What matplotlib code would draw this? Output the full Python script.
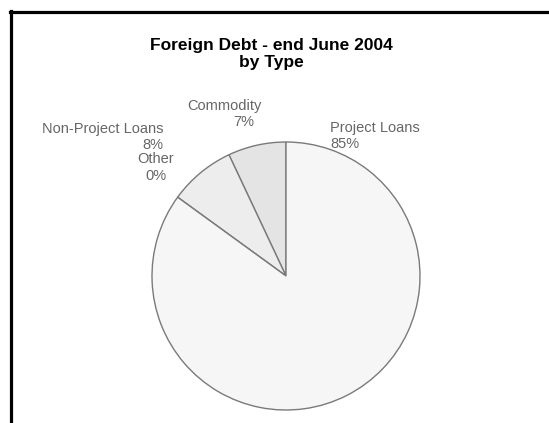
import matplotlib
matplotlib.use("Agg")
import matplotlib.pyplot as plt
from matplotlib.lines import Line2D

# Foreign debt composition, end June 2004
categories = ["Commodity", "Non-Project Loans", "Other", "Project Loans"]
shares = [7, 8, 0, 85]
fill_colors = ["#e4e4e4", "#ededed", "#f0f0f0", "#f6f6f6"]
title_lines = ["Foreign Debt - end June 2004", "by Type"]

W, H = 549, 423
plt.rcParams["font.family"] = ["Liberation Sans", "DejaVu Sans"]

fig = plt.figure(figsize=(W / 100, H / 100), dpi=100)
fig.patch.set_facecolor("white")


def fx(x):
    return x / W


def fy(y):
    return 1 - y / H


# frame lines along the top and left edges
fig.add_artist(Line2D([fx(10), fx(W)], [fy(12.5), fy(12.5)], color="black",
                      linewidth=2.3, transform=fig.transFigure))
fig.add_artist(Line2D([fx(11), fx(11)], [fy(11.3), fy(H)], color="black",
                      linewidth=2.3, transform=fig.transFigure))

# pie, centre (286, 276) px, radius 134 px
cx, cy, r = 286, 276, 134
ax = fig.add_axes([fx(cx - r), fy(cy + r), 2 * r / W, 2 * r / H])
ax.pie(shares, startangle=90, counterclock=True, colors=fill_colors,
       wedgeprops=dict(edgecolor="#7a7a7a", linewidth=1.0))
ax.set_xlim(-1, 1)
ax.set_ylim(-1, 1)
ax.axis("off")

# title
fig.text(fx(271), fy(50), title_lines[0], ha="center", va="baseline",
         fontsize=12.5, fontweight="bold", color="black")
fig.text(fx(271), fy(67), title_lines[1], ha="center", va="baseline",
         fontsize=12.5, fontweight="bold", color="black")

# slice labels: name (x, baseline, align) and percentage (x, baseline, align)
name_pos = {
    "Commodity": (262, 110, "right"),
    "Non-Project Loans": (163, 133, "right"),
    "Other": (155.5, 163, "center"),
    "Project Loans": (330, 132, "left"),
}
pct_pos = {
    "Commodity": (244, 126, "center"),
    "Non-Project Loans": (163, 149, "right"),
    "Other": (156, 180, "center"),
    "Project Loans": (330, 148, "left"),
}
label_color = "#666666"
for name, val in zip(categories, shares):
    x, y, ha = name_pos[name]
    fig.text(fx(x), fy(y), name, ha=ha, va="baseline", fontsize=10.5,
             color=label_color)
    x, y, ha = pct_pos[name]
    fig.text(fx(x), fy(y), f"{val:.0f}%", ha=ha, va="baseline",
             fontsize=10.5, color=label_color)

fig.savefig("out.png", dpi=100)
